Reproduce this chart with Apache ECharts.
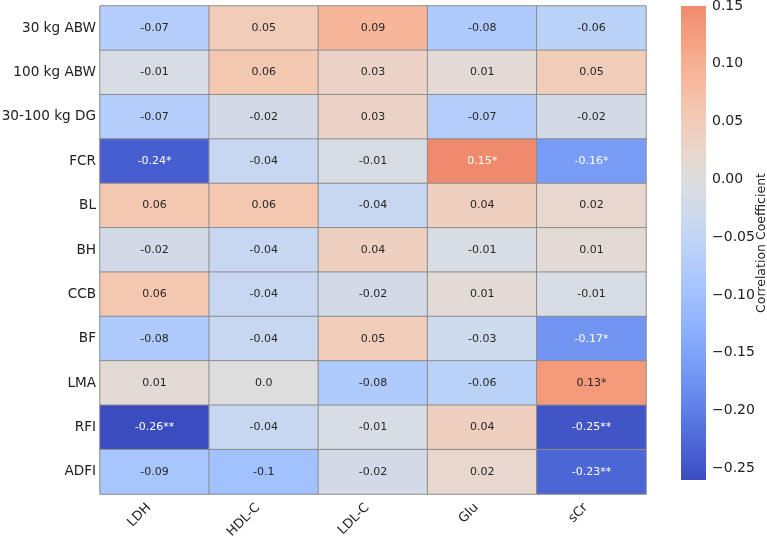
<!DOCTYPE html>
<html>
<head>
<meta charset="utf-8">
<script src="https://cdn.jsdelivr.net/npm/echarts@6/dist/echarts.min.js"></script>
<style>
  html, body { margin: 0; padding: 0; background: #fff; }
  #chart { width: 767px; height: 538px; }
</style>
</head>
<body>
<div id="chart"></div>
<script>
// traits (rows) and serum indices (columns)
const traits = ['30 kg ABW', '100 kg ABW', '30-100 kg DG', 'FCR', 'BL', 'BH', 'CCB', 'BF', 'LMA', 'RFI', 'ADFI'];
const indices = ['LDH', 'HDL-C', 'LDL-C', 'Glu', 'sCr'];

// correlation per column, top to bottom
const ldh  = [-0.07, -0.01, -0.07, -0.24, 0.06, -0.02, 0.06, -0.08, 0.01, -0.26, -0.09];
const hdlc = [0.05, 0.06, -0.02, -0.04, 0.06, -0.04, -0.04, -0.04, 0.0, -0.04, -0.1];
const ldlc = [0.09, 0.03, 0.03, -0.01, -0.04, 0.04, -0.02, 0.05, -0.08, -0.01, -0.02];
const glu  = [-0.08, 0.01, -0.07, 0.15, 0.04, -0.01, 0.01, -0.03, -0.06, 0.04, 0.02];
const scr  = [-0.06, 0.05, -0.02, -0.16, 0.02, 0.01, -0.01, -0.17, 0.13, -0.25, -0.23];

// significance marks per column
const ldhSig  = ['', '', '', '*', '', '', '', '', '', '**', ''];
const hdlcSig = ['', '', '', '', '', '', '', '', '', '', ''];
const ldlcSig = ['', '', '', '', '', '', '', '', '', '', ''];
const gluSig  = ['', '', '', '*', '', '', '', '', '', '', ''];
const scrSig  = ['', '', '', '*', '', '', '', '*', '*', '**', '**'];

const colorbarTicks = [-0.25, -0.2, -0.15, -0.1, -0.05, 0, 0.05, 0.1, 0.15];
const vmin = -0.26, vmax = 0.15;

const columns = [ldh, hdlc, ldlc, glu, scr];
const sigs = [ldhSig, hdlcSig, ldlcSig, gluSig, scrSig];

// coolwarm colormap (Moreland), centred on 0
const cw = [
  [59,76,192],[68,90,204],[77,104,215],[87,117,225],[98,130,234],[108,142,241],[119,154,247],[130,165,251],
  [141,176,254],[152,185,255],[163,194,255],[174,201,253],[184,208,249],[194,213,244],[204,217,238],[213,219,230],
  [221,221,221],[229,216,209],[236,211,197],[241,204,185],[245,196,173],[247,187,160],[247,177,148],[247,166,135],
  [244,154,123],[241,141,111],[236,127,99],[229,112,88],[222,96,77],[213,80,66],[203,62,56],[192,40,47],[180,4,38]
];
const vrange = Math.max(vmax, -vmin);
function cmapRGB(v) {
  let t = 0.5 + v / (2 * vrange);
  t = Math.min(1, Math.max(0, t));
  const f = t * (cw.length - 1);
  const i = Math.min(cw.length - 2, Math.floor(f));
  const r = f - i;
  return cw[i].map((c, k) => Math.round(c + (cw[i + 1][k] - c) * r));
}
function toHex(rgb) {
  return '#' + rgb.map(c => c.toString(16).padStart(2, '0')).join('');
}
// light or dark annotation depending on cell luminance
function textColor(v) {
  const lin = cmapRGB(v).map(c => {
    c = c / 255;
    return c <= 0.03928 ? c / 12.92 : Math.pow((c + 0.055) / 1.055, 2.4);
  });
  const lum = 0.2126 * lin[0] + 0.7152 * lin[1] + 0.0722 * lin[2];
  return lum > 0.408 ? '#262626' : '#ffffff';
}
function fmt(v) {
  return Number.isInteger(v) ? v.toFixed(1) : String(v);
}

const stops = [];
for (let i = 0; i <= 60; i++) {
  const v = vmin + (vmax - vmin) * i / 60;
  stops.push(toHex(cmapRGB(v)));
}

const heatData = [];
columns.forEach((col, x) => {
  col.forEach((v, y) => {
    heatData.push({
      value: [x, y, v],
      label: { color: textColor(v) },
      sig: sigs[x][y]
    });
  });
});

const font = 'DejaVu Sans';
const chart = echarts.init(document.getElementById('chart'));

chart.setOption({
  backgroundColor: '#fff',
  animation: false,
  grid: [
    { left: 100, right: 121, top: 6, bottom: 44, outerBoundsMode: 'none', containLabel: false },
    { left: 681, width: 25, top: 6, height: 474, outerBoundsMode: 'none', containLabel: false }
  ],
  xAxis: [
    {
      type: 'category',
      data: indices,
      gridIndex: 0,
      axisLine: { show: false },
      axisTick: { alignWithLabel: true, inside: true, length: 3, lineStyle: { color: '#333' } },
      axisLabel: {
        rotate: 45, fontFamily: font, fontSize: 13, color: '#222', margin: 6,
        padding: [0, 8, 11, 0]
      },
      splitLine: { show: false }
    },
    { type: 'value', gridIndex: 1, min: 0, max: 1, show: false }
  ],
  yAxis: [
    {
      type: 'category',
      data: traits,
      inverse: true,
      gridIndex: 0,
      axisLine: { show: false },
      axisTick: { alignWithLabel: true, length: 3, lineStyle: { color: '#333' } },
      axisLabel: { fontFamily: font, fontSize: 13.6, color: '#222', margin: 4 },
      splitLine: { show: false }
    },
    {
      type: 'value',
      gridIndex: 1,
      position: 'right',
      min: vmin,
      max: vmax,
      axisLine: { show: false },
      axisTick: { show: true, length: 4, customValues: colorbarTicks, lineStyle: { color: '#333' } },
      axisLabel: {
        customValues: colorbarTicks,
        fontFamily: font, fontSize: 14, color: '#222', margin: 6,
        formatter: v => (v < 0 ? '\u2212' : '') + Math.abs(v).toFixed(2)
      },
      splitLine: { show: false },
      name: 'Correlation Coefficient',
      nameLocation: 'middle',
      nameRotate: 90,
      nameGap: 56,
      nameMoveOverlap: false,
      nameTextStyle: { fontFamily: font, fontSize: 12.5, color: '#222', verticalAlign: 'middle' }
    }
  ],
  visualMap: {
    show: false,
    type: 'continuous',
    seriesIndex: 0,
    dimension: 2,
    min: vmin,
    max: vmax,
    inRange: { color: stops }
  },
  series: [
    {
      type: 'heatmap',
      xAxisIndex: 0,
      yAxisIndex: 0,
      data: heatData,
      itemStyle: { borderColor: '#8c8c8c', borderWidth: 1 },
      label: {
        show: true,
        fontFamily: font,
        fontSize: 11,
        formatter: p => fmt(p.value[2]) + p.data.sig
      },
      emphasis: { disabled: true }
    },
    {
      // colour bar drawn on its own value axis
      type: 'custom',
      xAxisIndex: 1,
      yAxisIndex: 1,
      data: [[0, vmin, vmax]],
      renderItem: (params, api) => {
        const p1 = api.coord([0, api.value(2)]);
        const p2 = api.coord([1, api.value(1)]);
        const colorStops = stops.slice().reverse().map((c, i, a) => ({ offset: i / (a.length - 1), color: c }));
        return {
          type: 'rect',
          shape: { x: p1[0], y: p1[1], width: p2[0] - p1[0], height: p2[1] - p1[1] },
          style: { fill: new echarts.graphic.LinearGradient(0, 0, 0, 1, colorStops) }
        };
      },
      silent: true
    }
  ]
});
</script>
</body>
</html>
